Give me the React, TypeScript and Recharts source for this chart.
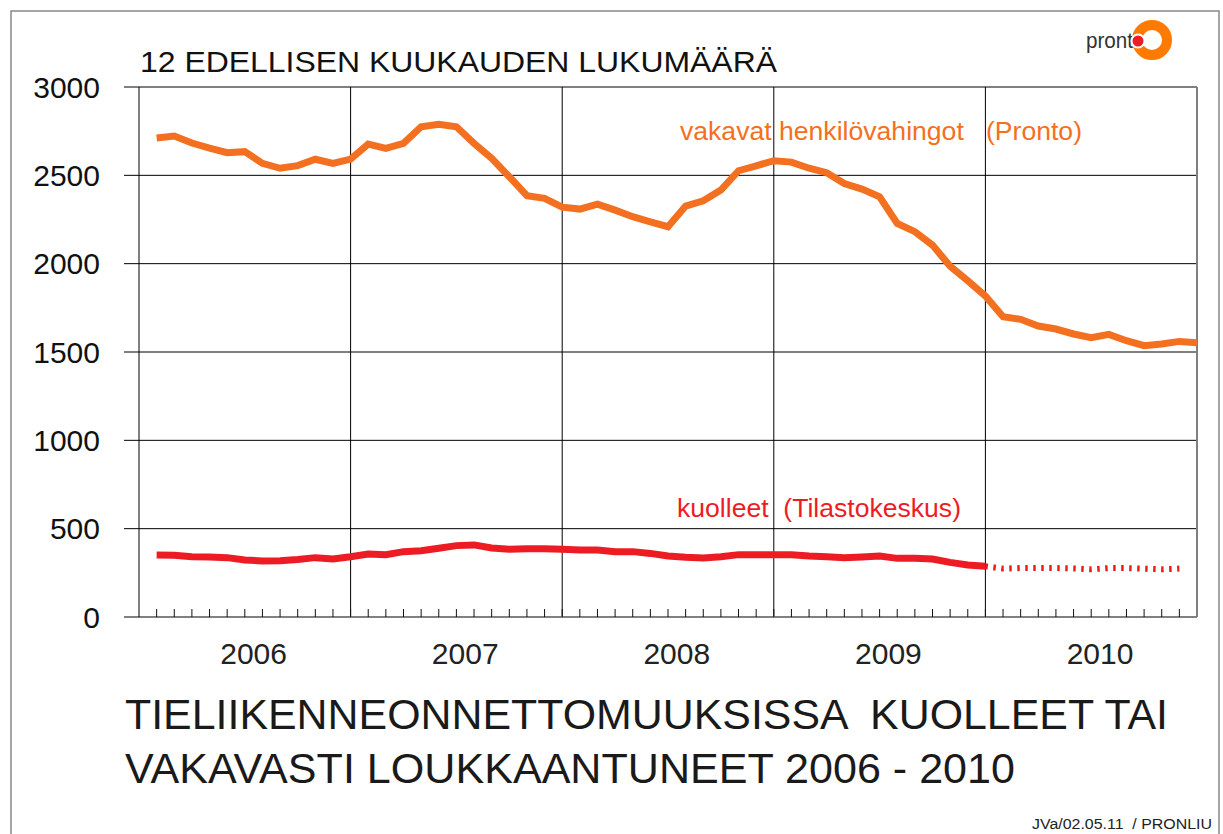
import React from 'react';
import {
  LineChart,
  Line,
  XAxis,
  YAxis,
  CartesianGrid,
  ReferenceLine
} from 'recharts';

// 12-month rolling totals, Jan 2006 .. Dec 2010 (one value per month end)
const years = ['2006', '2007', '2008', '2009', '2010'];
const yTicks = [0, 500, 1000, 1500, 2000, 2500, 3000];

const seriousInjuries = [
  2711, 2722, 2683, 2654, 2628, 2634, 2568, 2540, 2555, 2591, 2568, 2592,
  2677, 2653, 2681, 2775, 2789, 2775, 2681, 2596, 2492, 2385, 2370, 2320,
  2309, 2337, 2303, 2266, 2237, 2209, 2326, 2356, 2417, 2526, 2554, 2583,
  2575, 2540, 2515, 2454, 2422, 2379, 2228, 2181, 2105, 1986, 1903, 1817,
  1700, 1685, 1647, 1630, 1602, 1581, 1600, 1564, 1536, 1545, 1560, 1553
];

const deaths = [
  351, 350, 341, 340, 336, 323, 317, 319, 326, 336, 328, 341,
  357, 353, 370, 375, 389, 404, 408, 391, 383, 387, 387, 383,
  379, 379, 370, 370, 360, 345, 338, 334, 341, 353, 353, 353,
  353, 345, 341, 336, 340, 345, 332, 332, 328, 309, 294, 287
];

// preliminary figures (dotted), months 48..59
const deathsPrelim = [287, 274, 277, 277, 277, 275, 270, 277, 277, 274, 270, 274];

const ORANGE = '#F37021';
const RED = '#ED1C24';
const FONT = '"Liberation Sans", Arial, sans-serif';

const chartData = seriousInjuries.map((v, i) => {
  const m = i + 1;
  return {
    m,
    pronto: v,
    deaths: m <= deaths.length ? deaths[i] : null,
    prelim: m >= 48 && m - 48 < deathsPrelim.length ? deathsPrelim[m - 48] : null
  };
});

const monthTicks = Array.from({ length: 59 }, (_, i) => i + 1);
const yearTicks = years.map((_, i) => i * 12 + 6.5);
const xTicks = [...monthTicks, ...yearTicks].sort((a, b) => a - b);
const yearLines = [12, 24, 36, 48];

// month ticks point up into the plot, year labels sit mid-year below it
function MonthYearTick(props: any) {
  const { x, y, payload } = props;
  const v = payload.value;
  if (Number.isInteger(v)) {
    return <line x1={x} x2={x} y1={y} y2={y - 8} stroke="#111" strokeWidth={1} />;
  }
  return (
    <text x={x} y={y + 47} textAnchor="middle" fontSize={30} fill="#222" fontFamily={FONT}>
      {years[Math.floor(v / 12)]}
    </text>
  );
}

export default function App() {
  return (
    <div style={{ position: 'absolute', left: 0, top: 0, width: 1223, height: 834, background: '#fff', fontFamily: FONT }}>
      <LineChart
        width={1223}
        height={834}
        data={chartData}
        margin={{ top: 87, right: 26, bottom: 157, left: 39 }}
      >
        <CartesianGrid vertical={false} stroke="#000" strokeWidth={1} />
        <XAxis
          dataKey="m"
          type="number"
          domain={[0, 60]}
          ticks={xTicks}
          interval={0}
          height={60}
          tickSize={0}
          tickMargin={0}
          tickLine={false}
          axisLine={{ stroke: '#808080', strokeWidth: 2 }}
          tick={<MonthYearTick />}
        />
        <YAxis
          domain={[0, 3000]}
          ticks={yTicks}
          interval={0}
          width={100}
          tickSize={15}
          tickMargin={24}
          tickLine={{ stroke: '#000' }}
          axisLine={{ stroke: '#000' }}
          tick={{ fontSize: 30, fill: '#111', fontFamily: FONT }}
        />
        {yearLines.map((x) => (
          <ReferenceLine key={x} x={x} stroke="#000" strokeWidth={1} />
        ))}
        <ReferenceLine x={60} stroke="#808080" strokeWidth={2} />
        <Line
          type="linear"
          dataKey="pronto"
          stroke={ORANGE}
          strokeWidth={7}
          dot={false}
          isAnimationActive={false}
        />
        <Line
          type="linear"
          dataKey="deaths"
          stroke={RED}
          strokeWidth={7}
          dot={false}
          isAnimationActive={false}
        />
        <Line
          type="linear"
          dataKey="prelim"
          stroke={RED}
          strokeWidth={6}
          strokeDasharray="2.5 5.5"
          dot={false}
          isAnimationActive={false}
        />
      </LineChart>

      <svg
        width={1223}
        height={834}
        style={{ position: 'absolute', left: 0, top: 0, pointerEvents: 'none' }}
        fontFamily={FONT}
      >
        {/* page frame */}
        <polyline points="11,834 11,11 1219,11 1219,834" fill="none" stroke="#888" strokeWidth={1.5} />

        <text x={140} y={72} fontSize={30} fill="#111" textLength={637} lengthAdjust="spacingAndGlyphs">
          12 EDELLISEN KUUKAUDEN LUKUMÄÄRÄ
        </text>

        <text x={680} y={140} fontSize={25} fill={ORANGE} textLength={402} lengthAdjust="spacingAndGlyphs" style={{ whiteSpace: 'pre' }}>
          {'vakavat henkilövahingot   (Pronto)'}
        </text>
        <text x={677} y={517} fontSize={25} fill={RED} textLength={284} lengthAdjust="spacingAndGlyphs" style={{ whiteSpace: 'pre' }}>
          {'kuolleet  (Tilastokeskus)'}
        </text>

        <text x={125} y={729} fontSize={43} fill="#1a1a1a" textLength={1043} lengthAdjust="spacingAndGlyphs" style={{ whiteSpace: 'pre' }}>
          {'TIELIIKENNEONNETTOMUUKSISSA  KUOLLEET TAI'}
        </text>
        <text x={125} y={783} fontSize={43} fill="#1a1a1a" textLength={890} lengthAdjust="spacingAndGlyphs">
          VAKAVASTI LOUKKAANTUNEET 2006 - 2010
        </text>

        <text x={1032} y={829} fontSize={14} fill="#222" textLength={180} lengthAdjust="spacingAndGlyphs" style={{ whiteSpace: 'pre' }}>
          {'JVa/02.05.11  / PRONLIU'}
        </text>

        {/* logo */}
        <text x={1086} y={48} fontSize={22} fill="#333" textLength={47} lengthAdjust="spacingAndGlyphs">
          pront
        </text>
        <circle cx={1152} cy={40} r={15} fill="none" stroke="#FF7A00" strokeWidth={10} />
        <circle cx={1138} cy={41} r={6.5} fill="#EE1C25" stroke="#fff" strokeWidth={2} />
      </svg>
    </div>
  );
}
